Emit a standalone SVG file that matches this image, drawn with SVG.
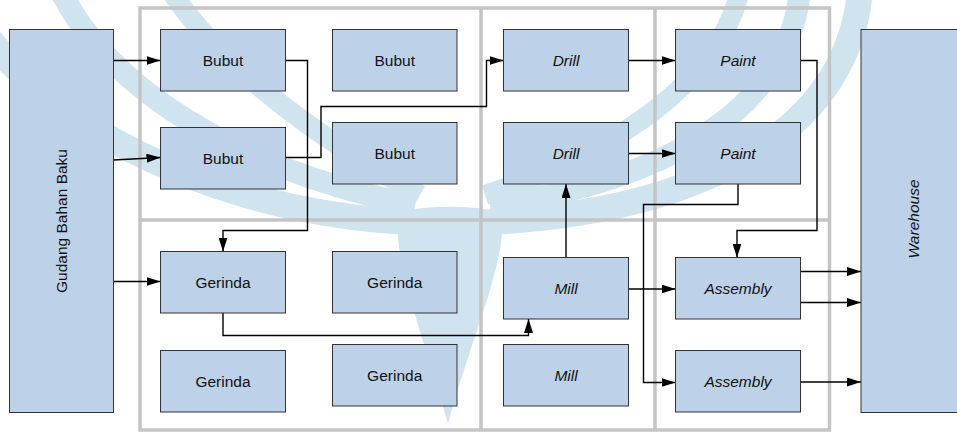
<svg xmlns="http://www.w3.org/2000/svg" width="957" height="432" viewBox="0 0 957 432">
  <style>
    .wm { fill: none; stroke: #d0e4f0; stroke-linecap: butt; }
    .frame { fill: none; stroke: #c4c4c4; stroke-width: 3.5; }
    .box { fill: #bdd1e9; stroke: #333333; stroke-width: 1; }
    .lbl { font-family: "Liberation Sans", Arial, sans-serif; font-size: 15.5px; fill: #111111; text-anchor: middle; }
    .it { font-style: italic; }
    .wire { fill: none; stroke: #000000; stroke-width: 1.4; marker-end: url(#arrow); }
  </style>
  <defs>
    <marker id="arrow" markerUnits="userSpaceOnUse" markerWidth="14" markerHeight="9" refX="14" refY="4.5" orient="auto">
      <path d="M0,0 L14,4.5 L0,9 Z" fill="#000000"/>
    </marker>
  </defs>

  <rect width="957" height="432" fill="#ffffff"/>

  <!-- faint background logo -->
  <g id="logo">
    <path class="wm" stroke-width="26" d="M -10,40 C 80,150 250,215 410,222"/>
    <path class="wm" stroke-width="22" d="M 60,-10 C 120,110 280,180 415,205"/>
    <path class="wm" stroke-width="20" d="M 170,-10 C 230,80 340,150 420,195"/>
    <path class="wm" stroke-width="26" d="M 860,-10 C 850,120 720,210 490,222"/>
    <path class="wm" stroke-width="22" d="M 800,-10 C 790,100 680,180 490,205"/>
    <path class="wm" stroke-width="20" d="M 740,-10 C 720,80 620,150 485,195"/>
    <path fill="#d0e4f0" d="M398,212 C392,260 425,340 448,424 C470,340 508,260 502,212 C470,205 430,205 398,212 Z"/>
  </g>

  <!-- department grid -->
  <g id="grid">
    <rect class="frame" x="140" y="8" width="689.5" height="422"/>
    <line class="frame" x1="481" y1="8" x2="481" y2="430"/>
    <line class="frame" x1="655" y1="8" x2="655" y2="430"/>
    <line class="frame" x1="140" y1="220" x2="829.5" y2="220"/>
  </g>

  <!-- connectors -->
  <g id="connectors">
    <path class="wire" d="M113.5,60.5 H160.5"/>
    <path class="wire" d="M113.5,160 L160.5,157.5"/>
    <path class="wire" d="M113.5,281.5 H160.5"/>
    <path class="wire" d="M285.5,60.5 H307.5 V230.5 H223 V251.5"/>
    <path class="wire" d="M285.5,157.5 H321 V106.5 H486.5 V60.5 H503.5"/>
    <path class="wire" d="M223,313 V335.5 H528.5 V319"/>
    <path class="wire" d="M566,257.5 V184"/>
    <path class="wire" d="M628.5,60.5 H675.5"/>
    <path class="wire" d="M628.5,153.5 H675.5"/>
    <path class="wire" d="M628.5,289 H675.5"/>
    <path class="wire" d="M800.5,60.5 H817 V230.5 H737 V257.5"/>
    <path class="wire" d="M738,184 V204.5 H643.5 V382.5 H675.5"/>
    <path class="wire" d="M800.5,271.5 H861"/>
    <path class="wire" d="M800.5,302.5 H861"/>
    <path class="wire" d="M800.5,382 H861"/>
  </g>

  <!-- source and sink -->
  <g id="gudang">
    <rect class="box" x="9.5" y="29.5" width="104" height="383"/>
    <text class="lbl" transform="translate(67,221) rotate(-90)">Gudang Bahan Baku</text>
  </g>
  <g id="warehouse">
    <rect class="box" x="861" y="29.5" width="110" height="383"/>
    <text class="lbl it" transform="translate(919,219) rotate(-90)">Warehouse</text>
  </g>

  <!-- Bubut -->
  <g id="bubut-1"><rect class="box" x="160.5" y="29.5" width="125" height="61.5"/><text class="lbl" x="223" y="65.7">Bubut</text></g>
  <g id="bubut-2"><rect class="box" x="160.5" y="127.5" width="125" height="61.5"/><text class="lbl" x="223" y="163.7">Bubut</text></g>
  <g id="bubut-3"><rect class="box" x="332.5" y="29.5" width="124.5" height="61.5"/><text class="lbl" x="394.7" y="65.7">Bubut</text></g>
  <g id="bubut-4"><rect class="box" x="332.5" y="122.5" width="124.5" height="61.5"/><text class="lbl" x="394.7" y="158.7">Bubut</text></g>

  <!-- Gerinda -->
  <g id="gerinda-1"><rect class="box" x="160.5" y="251.5" width="125" height="61.5"/><text class="lbl" x="223" y="287.7">Gerinda</text></g>
  <g id="gerinda-2"><rect class="box" x="332.5" y="251.5" width="124.5" height="61.5"/><text class="lbl" x="394.7" y="287.7">Gerinda</text></g>
  <g id="gerinda-3"><rect class="box" x="160.5" y="350.5" width="125" height="61.5"/><text class="lbl" x="223" y="386.7">Gerinda</text></g>
  <g id="gerinda-4"><rect class="box" x="332.5" y="344.5" width="124.5" height="61.5"/><text class="lbl" x="394.7" y="380.7">Gerinda</text></g>

  <!-- Drill / Mill -->
  <g id="drill-1"><rect class="box" x="503.5" y="29.5" width="125" height="61.5"/><text class="lbl it" x="566" y="65.7">Drill</text></g>
  <g id="drill-2"><rect class="box" x="503.5" y="122.5" width="125" height="61.5"/><text class="lbl it" x="566" y="158.7">Drill</text></g>
  <g id="mill-1"><rect class="box" x="503.5" y="257.5" width="125" height="61.5"/><text class="lbl it" x="566" y="293.7">Mill</text></g>
  <g id="mill-2"><rect class="box" x="503.5" y="344.5" width="125" height="61.5"/><text class="lbl it" x="566" y="380.7">Mill</text></g>

  <!-- Paint / Assembly -->
  <g id="paint-1"><rect class="box" x="675.5" y="29.5" width="125" height="61.5"/><text class="lbl it" x="738" y="65.7">Paint</text></g>
  <g id="paint-2"><rect class="box" x="675.5" y="122.5" width="125" height="61.5"/><text class="lbl it" x="738" y="158.7">Paint</text></g>
  <g id="assembly-1"><rect class="box" x="675.5" y="257.5" width="125" height="61.5"/><text class="lbl it" x="738" y="293.7">Assembly</text></g>
  <g id="assembly-2"><rect class="box" x="675.5" y="350.5" width="125" height="61.5"/><text class="lbl it" x="738" y="386.7">Assembly</text></g>
</svg>
